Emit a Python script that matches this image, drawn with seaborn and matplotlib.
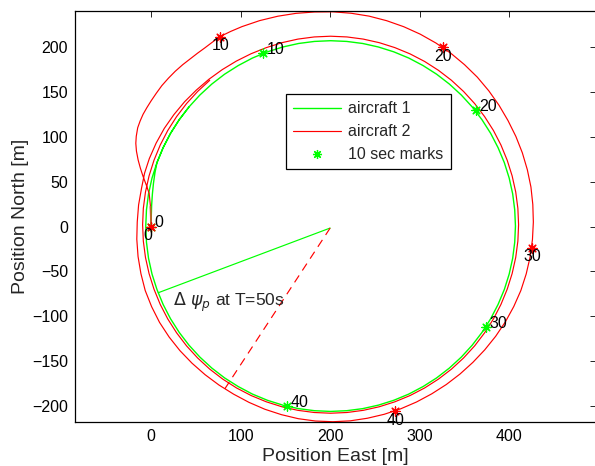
import matplotlib
matplotlib.use("Agg")
import matplotlib.pyplot as plt
import seaborn as sns
from matplotlib.lines import Line2D

sns.set_theme(style="white")
plt.rcParams["font.family"] = ["Liberation Sans", "DejaVu Sans"]
plt.rcParams["mathtext.fontset"] = "dejavusans"

# ---- ground tracks [m] ----
ac1_east = [0.0, 0.2, 0.6, 1.4, 2.6, 4.3, 6.5,
            13.4, 21.7, 31.4, 42.3, 54.5, 67.8, 82.1, 97.3, 113.2, 129.9, 147.1,
            164.7, 182.5, 200.5, 218.5, 236.4, 253.9, 271.1, 287.8, 303.8, 318.9,
            333.2, 346.5, 358.7, 369.6, 379.3, 387.6, 394.6, 400.0, 403.9, 406.2,
            407.0, 406.2, 403.9, 400.0, 394.6, 387.6, 379.3, 369.6, 358.7, 346.5,
            333.2, 318.9, 303.8, 287.8, 271.1, 253.9, 236.4, 218.5, 200.5, 182.5,
            164.7, 147.1, 129.9, 113.2, 97.3, 82.1, 67.8, 54.5, 42.3, 31.4, 21.7,
            13.4, 6.5, 1.0, -2.9, -5.2, -6.0,
            -5.2, -2.9, 1.0, 6.5, 13.4, 21.7, 31.4, 42.3]
ac1_north = [0.0, 12.0, 24.0, 36.0, 48.0, 60.0, 71.1,
             87.8, 103.8, 119.0, 133.2, 146.5, 158.7, 169.7, 179.3, 187.7, 194.6,
             200.0, 203.9, 206.2, 207.0, 206.2, 203.9, 200.0, 194.6, 187.7, 179.3,
             169.7, 158.7, 146.5, 133.2, 119.0, 103.8, 87.8, 71.1, 54.0, 36.4, 18.5,
             0.5, -17.5, -35.4, -53.0, -70.1, -86.8, -102.8, -118.0, -132.2, -145.5,
             -157.7, -168.7, -178.3, -186.7, -193.6, -199.0, -202.9, -205.2, -206.0,
             -205.2, -202.9, -199.0, -193.6, -186.7, -178.3, -168.7, -157.7, -145.5,
             -132.2, -118.0, -102.8, -86.8, -70.1, -53.0, -35.4, -17.5, 0.5,
             18.5, 36.4, 54.0, 71.1, 87.8, 103.8, 119.0, 133.2]

ac2_east = [0.0, -0.3, -0.7, -2.2, -5.5, -8.9, -12.0, -14.5, -16.4, -17.1, -16.6,
            -15.0, -12.3, -9.0, -4.7, 0.0, 5.8, 12.0, 19.3, 27.0, 35.3, 44.0, 52.0,
            60.0, 68.2, 76.8, 89.0,
            101.5, 121.3, 141.6, 162.0, 182.5, 203.0, 223.4, 243.4, 263.1, 282.2,
            300.6, 318.2, 334.7, 350.1, 364.4, 377.2, 388.7, 398.7, 407.5, 414.7,
            420.3, 424.3, 426.4, 427.0, 426.0, 423.4, 419.0, 413.0, 405.1, 395.7,
            384.9, 372.7, 359.4, 345.1, 329.8, 313.5, 296.5, 278.8, 260.4, 241.6,
            222.4, 203.0, 183.6, 164.4, 145.5, 127.1, 109.3, 92.2, 75.8, 60.3, 45.7,
            32.2, 20.1, 9.4, 0.6, -6.6, -11.4, -14.6, -16.0, -15.5, -14.0, -10.7,
            -7.3,
            -2.0, 5.6, 14.7, 25.4, 37.3, 50.5, 64.5, 79.5, 95.2, 111.7, 128.7,
            146.1, 164.0, 182.2, 200.5, 218.8, 237.0, 254.9, 272.3, 289.3, 305.5,
            321.0, 335.5, 349.0, 361.4, 372.5, 382.4, 390.8, 397.8, 403.3, 407.3,
            409.7, 410.5, 409.7, 407.3, 403.3, 397.8, 390.8, 382.4, 372.5, 361.4,
            349.0, 335.5, 321.0, 305.5, 289.3, 272.3, 254.9, 237.0, 218.8, 200.5,
            182.2, 164.0, 146.1, 128.7, 111.7, 95.5, 80.0, 65.5, 52.0, 39.6, 28.5,
            18.6, 10.2, 3.2, -2.3, -6.3, -8.7, -9.5,
            -8.7, -6.3, -2.3, 3.2, 10.2, 18.6, 28.5, 39.6, 52.0, 65.5]
ac2_north = [0.0, 11.0, 22.1, 37.0, 46.5, 55.5, 65.0, 74.1, 84.0, 92.7, 100.5,
             110.0, 117.5, 125.0, 132.5, 140.0, 148.5, 157.0, 165.2, 173.0, 180.3,
             187.0, 193.2, 199.0, 205.2, 211.5, 217.4,
             222.7, 229.4, 234.3, 237.5, 239.0, 239.2, 237.6, 234.4, 229.3, 222.6,
             214.3, 204.4, 193.1, 180.3, 166.4, 151.2, 135.0, 118.0, 100.3, 82.1,
             63.2, 44.0, 24.5, 5.0, -14.5, -33.9, -52.9, -71.4, -89.2, -106.3,
             -122.3, -137.4, -151.4, -164.3, -176.0, -186.4, -195.5, -203.1, -209.2,
             -213.6, -216.5, -217.5, -216.7, -214.1, -209.6, -203.6, -195.9, -186.8,
             -176.6, -165.1, -152.3, -138.3, -123.1, -106.8, -89.4, -71.3, -52.5,
             -33.4, -14.2, 5.0, 24.0, 42.7,
             59.5,
             75.7, 92.9, 109.3, 124.6, 138.9, 152.0, 164.0, 174.8, 184.3, 192.5, 199.3,
             204.8, 208.8, 211.2, 212.0, 211.2, 208.8, 204.8, 199.3, 192.3, 183.9,
             174.0, 162.9, 150.5, 137.0, 122.5, 107.0, 90.8, 73.8, 56.4, 38.5, 20.3,
             2.0, -16.3, -34.5, -52.4, -69.8, -86.8, -103.0, -118.5, -133.0, -146.5,
             -158.9, -170.0, -179.9, -188.3, -195.3, -200.8, -204.8, -207.2, -208.0,
             -207.2, -204.8, -200.8, -195.3, -188.3, -179.9, -170.0, -158.9, -146.5,
             -133.0, -118.5, -103.0, -86.8, -69.8, -52.4, -34.5, -16.3, 2.0,
             20.3, 38.5, 56.4, 73.8, 90.8, 107.0, 122.5, 137.0, 150.5, 162.9]

assert len(ac1_east) == len(ac1_north)
assert len(ac2_east) == len(ac2_north)

# leg flown by both aircraft right after release
common_start_east = [0.0, -0.3, -0.7]
common_start_north = [0.0, 11.0, 22.1]

# ---- 10 second marks ----
mark_times = [0, 10, 20, 30, 40]
ac1_mark_east = [0.0, 125.1, 362.8, 374.0, 152.0]
ac1_mark_north = [0.0, 193.3, 129.4, -111.6, -200.3]
ac2_mark_east = [0.0, 76.8, 325.6, 425.0, 272.3]
ac2_mark_north = [0.0, 211.5, 199.5, -23.6, -205.8]

# ---- phase angle at T = 50 s ----
ac1_phase_east = [200.0, 7.9]
ac1_phase_north = [-1.7, -73.8]
ac2_phase_east = [200.0, 82.3]
ac2_phase_north = [-1.7, -180.9]

GREEN = "#00ff00"
RED = "#ff0000"
STAR = (8, 2, 0)

fig = plt.figure(figsize=(5.95, 4.66), dpi=100)
ax = fig.add_axes([0.1261, 0.0944, 0.8756, 0.882])

sns.lineplot(x=ac1_east, y=ac1_north, sort=False, estimator=None,
             color=GREEN, lw=1.0, ax=ax)
sns.lineplot(x=ac2_east, y=ac2_north, sort=False, estimator=None,
             color=RED, lw=0.85, ax=ax)
sns.lineplot(x=common_start_east, y=common_start_north, sort=False, estimator=None,
             color="#c0622c", lw=1.3, ax=ax)

sns.lineplot(x=ac1_phase_east, y=ac1_phase_north, sort=False, estimator=None,
             color=GREEN, lw=0.85, ax=ax)
sns.lineplot(x=ac2_phase_east, y=ac2_phase_north, sort=False, estimator=None,
             color=RED, lw=0.85, linestyle=(0, (7, 5)), ax=ax)

sns.scatterplot(x=ac1_mark_east, y=ac1_mark_north, marker=STAR, s=45,
                color=GREEN, edgecolor=GREEN, linewidth=0.9, ax=ax, zorder=3)
sns.scatterplot(x=ac2_mark_east, y=ac2_mark_north, marker=STAR, s=45,
                color=RED, edgecolor=RED, linewidth=0.9, ax=ax, zorder=3)

for t, e, n in zip(mark_times, ac1_mark_east, ac1_mark_north):
    ax.text(e + 4, n + 4, str(t), fontsize=11.5, ha="left", va="center",
            color="black", clip_on=False)
for t, e, n in zip(mark_times, ac2_mark_east, ac2_mark_north):
    ax.text(e - 9, n - 10, str(t), fontsize=11.5, ha="left", va="center",
            color="black", clip_on=False)

ax.text(25, -84, r"$\Delta\ \psi_p$ at T=50s", fontsize=12.5, ha="left", va="center")

ax.set_xlim(-85, 497)
ax.set_ylim(-217.8, 240.1)
ax.set_xticks([0, 100, 200, 300, 400])
ax.set_yticks([-200, -150, -100, -50, 0, 50, 100, 150, 200])
ax.tick_params(direction="in", length=4, width=0.6, top=True, right=True,
               labelsize=11.5, colors="black", pad=5)
for sp in ax.spines.values():
    sp.set_color("black")
    sp.set_linewidth(0.9)
ax.set_xlabel("Position East [m]", fontsize=14, labelpad=3)
ax.set_ylabel("Position North [m]", fontsize=14, labelpad=2)

handles = [Line2D([], [], color=GREEN, lw=1.0),
           Line2D([], [], color=RED, lw=0.85),
           Line2D([], [], ls="", marker=STAR, color=GREEN, ms=6.5, mew=0.9)]
leg = ax.legend(handles, ["aircraft 1", "aircraft 2", "10 sec marks"],
                loc="upper left", bbox_to_anchor=(0.405, 0.798), borderaxespad=0,
                frameon=True, fancybox=False, framealpha=1, edgecolor="black",
                fontsize=11.5, handlelength=3.0, handletextpad=0.45,
                labelspacing=0.5, borderpad=0.45)
leg.get_frame().set_linewidth(0.9)

fig.savefig("out.png", dpi=100)
